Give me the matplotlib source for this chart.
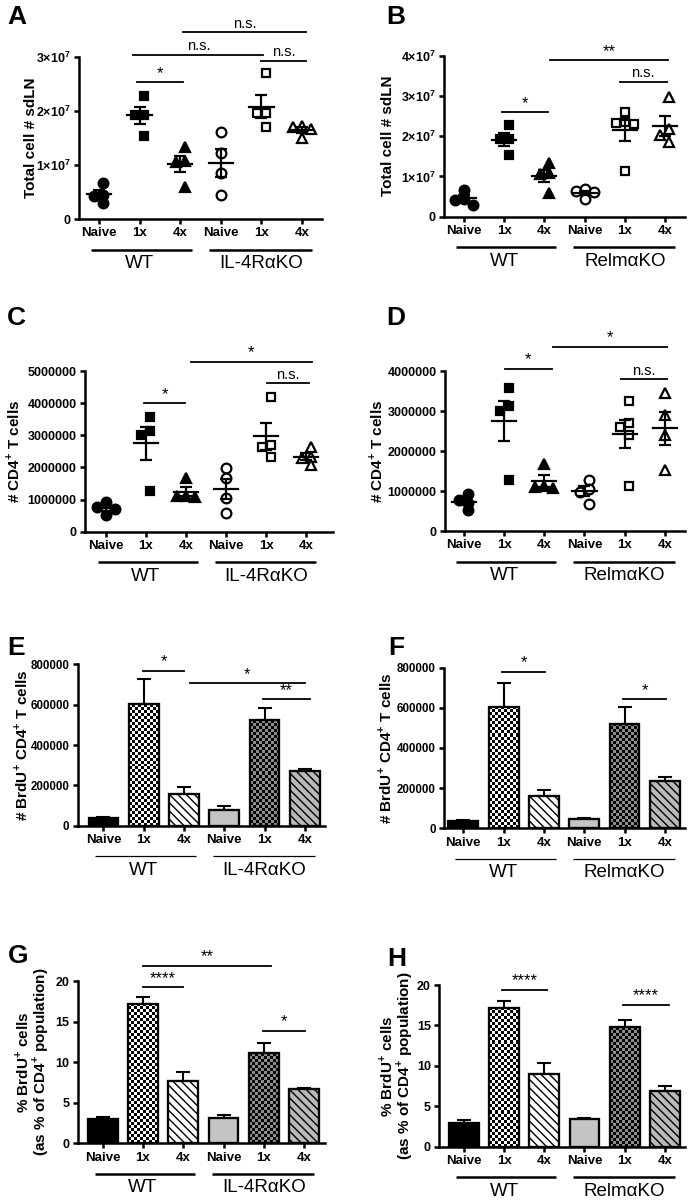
import numpy as np
import matplotlib
matplotlib.use('Agg')
import matplotlib.pyplot as plt
from matplotlib.colors import ListedColormap
from matplotlib.transforms import ScaledTranslation

plt.rcParams['font.family'] = ['Liberation Sans', 'DejaVu Sans']
plt.rcParams['mathtext.fontset'] = 'custom'
plt.rcParams['mathtext.rm'] = 'Liberation Sans'
plt.rcParams['mathtext.bf'] = 'Liberation Sans:bold'
plt.rcParams['hatch.linewidth'] = 1.0

conditions = ['Naive', '1x', '4x', 'Naive', '1x', '4x']
groups_il4 = ['WT', 'IL-4RαKO']
groups_relm = ['WT', 'RelmαKO']

# A/B: total cell # in sdLN (individual mice)
tot_wt = [[6.7e6, 4.4e6, 4.2e6, 3.0e6],
          [2.28e7, 1.93e7, 1.92e7, 1.54e7],
          [1.34e7, 1.08e7, 1.05e7, 0.60e7]]
tot_il4 = [[1.62e7, 1.23e7, 0.85e7, 0.45e7],
           [2.70e7, 1.96e7, 1.96e7, 1.71e7],
           [1.72e7, 1.70e7, 1.66e7, 1.50e7]]
tot_relm = [[0.68e7, 0.64e7, 0.62e7, 0.44e7],
            [2.61e7, 2.36e7, 2.32e7, 2.30e7, 1.14e7],
            [2.98e7, 2.19e7, 2.03e7, 1.86e7]]

# C/D: # CD4+ T cells
cd4_wt = [[0.92e6, 0.78e6, 0.70e6, 0.52e6],
          [3.58e6, 3.13e6, 3.01e6, 1.27e6],
          [1.68e6, 1.12e6, 1.10e6, 1.08e6]]
cd4_il4 = [[1.97e6, 1.66e6, 1.04e6, 0.59e6],
           [4.20e6, 2.70e6, 2.65e6, 2.33e6],
           [2.65e6, 2.33e6, 2.28e6, 2.08e6]]
cd4_relm = [[1.28e6, 1.05e6, 0.98e6, 0.67e6],
            [3.25e6, 2.69e6, 2.61e6, 2.40e6, 1.13e6],
            [3.44e6, 2.90e6, 2.40e6, 1.53e6]]

# E/F: # BrdU+ CD4+ T cells (mean, SEM)
brdu_wt = [36000, 603000, 159000]
brdu_wt_sem = [7000, 123000, 33000]
brdu_il4 = [78000, 524000, 271000]
brdu_il4_sem = [20000, 58000, 10000]
brdu_relm = [46500, 519000, 237000]
brdu_relm_sem = [3500, 87000, 20000]

# G/H: % BrdU+ of CD4+ (mean, SEM)
pct_wt_g = [2.96, 17.2, 7.72]
pct_wt_g_sem = [0.33, 0.82, 1.11]
pct_il4 = [3.08, 11.09, 6.73]
pct_il4_sem = [0.40, 1.31, 0.07]
pct_wt_h = [2.97, 17.2, 8.99]
pct_wt_h_sem = [0.33, 0.86, 1.40]
pct_relm = [3.38, 14.76, 6.89]
pct_relm_sem = [0.12, 0.91, 0.66]

# significance bars: (from, to, height, label)
sig_a = [(0.93, 2.08, 2.53e7, '*'), (0.85, 4.05, 3.04e7, 'n.s.'),
         (4.0, 5.1, 2.93e7, 'n.s.'), (2.08, 5.1, 3.46e7, 'n.s.')]
sig_b = [(0.94, 2.1, 2.59e7, '*'), (2.14, 5.08, 3.89e7, '**'), (3.88, 5.04, 3.35e7, 'n.s.')]
sig_c = [(0.95, 1.98, 3.99e6, '*'), (2.12, 5.14, 5.29e6, '*'), (4.02, 5.06, 4.62e6, 'n.s.')]
sig_d = [(1.02, 2.19, 4.05e6, '*'), (2.22, 5.06, 4.61e6, '*'), (3.91, 5.06, 3.79e6, 'n.s.')]
sig_e = [(0.98, 2.0, 767000, '*'), (2.15, 5.0, 706000, '*'), (3.97, 5.12, 626000, '**')]
sig_f = [(0.97, 2.03, 780000, '*'), (3.97, 5.04, 644000, '*')]
sig_g = [(1.0, 4.19, 21.9, '**'), (1.0, 2.0, 19.2, '****'), (3.98, 5.02, 13.9, '*')]
sig_h = [(0.95, 2.08, 19.38, '****'), (3.96, 5.1, 17.53, '****')]

W, H = 689, 1200
fig = plt.figure(figsize=(W / 100, H / 100), dpi=100)

# axes boxes in pixels: left, right, top, bottom, xlim, ylabel centre x, ytick size
boxes = {
    'A': (79, 322, 57, 219, (-0.49, 5.49), 31, 9),
    'B': (444, 685, 55.7, 216.7, (-0.5, 5.5), 388, 9),
    'C': (85, 333, 371, 531.7, (-0.52, 5.67), 13, 9),
    'D': (445, 685, 371, 531, (-0.47, 5.5), 376, 9),
    'E': (77.7, 325, 664.3, 825.7, (-0.64, 5.5), 21, 8.3),
    'F': (444, 685, 667.7, 828.3, (-0.48, 5.5), 385, 8.3),
    'G': (77.7, 325, 981, 1143.3, (-0.62, 5.52), 32, 9),
    'H': (439.3, 685, 985, 1146.7, (-0.61, 5.5), 396, 9),
}
letters = {'A': (7, 5), 'B': (386, 5), 'C': (7, 306), 'D': (386, 306),
           'E': (7, 636), 'F': (388, 636), 'G': (8, 944), 'H': (387, 947)}


def make_axes(key, ylim, yticks, ylabels, ylabel, groups, sigs, under_lw=1.8):
    l, r, t, b, xl, labx, yfs = boxes[key]
    ax = fig.add_axes([l / W, 1 - b / H, (r - l) / W, (b - t) / H])
    ax.set_xlim(xl)
    ax.set_ylim(ylim)
    for s in ['top', 'right']:
        ax.spines[s].set_visible(False)
    for s in ['left', 'bottom']:
        ax.spines[s].set_linewidth(1.8)
    ax.tick_params(direction='out', length=3.5, width=1.8, pad=2.5)
    ax.set_xticks(range(6), conditions, fontweight='bold', fontsize=9.5)
    ax.set_yticks(yticks, ylabels, fontweight='bold', fontsize=yfs)
    ax.set_ylabel(ylabel, fontweight='bold', fontsize=11, va='center',
                  linespacing=0.95)
    ax.yaxis.set_label_coords((labx - l) / (r - l), 0.5)

    # group underlines and names below the x tick labels
    off_line = ax.get_xaxis_transform() + ScaledTranslation(0, -22 / 72, fig.dpi_scale_trans)
    off_text = ax.get_xaxis_transform() + ScaledTranslation(0, -32 / 72, fig.dpi_scale_trans)
    for (x0, x1), xc, name in zip([(-0.2, 2.3), (2.72, 5.24)], [1, 4], groups):
        ax.plot([x0, x1], [0, 0], color='k', lw=under_lw, transform=off_line,
                clip_on=False, solid_capstyle='butt')
        ax.text(xc, 0, name, transform=off_text, ha='center', va='center', fontsize=13.5)

    for x0, x1, y, lab in sigs:
        ax.plot([x0, x1], [y, y], color='k', lw=1.3, clip_on=False)
        fs = 10.5 if lab == 'n.s.' else 12
        ax.annotate(lab, ((x0 + x1) / 2, y), xytext=(0, 1.0), textcoords='offset points',
                    ha='center', va='bottom', fontsize=fs, annotation_clip=False)

    lx, ly = letters[key]
    fig.text(lx / W, 1 - ly / H, key, fontsize=19, fontweight='bold', va='top', ha='left')
    return ax


def swarm(vals, ypx, xpx, mpx):
    vals = np.asarray(vals)
    offs = np.zeros(len(vals))
    placed = []
    for k in np.argsort(vals)[::-1]:
        for step in [0, -0.5, 0.5, -1, 1, -1.5, 1.5, -2, 2]:
            ox = step * mpx
            if all(abs(ox - px) >= 0.8 * mpx or abs(vals[k] - v) * ypx >= 0.8 * mpx
                   for px, v in placed):
                break
        placed.append((ox, vals[k]))
        offs[k] = ox / xpx
    # centre the cloud
    return offs - (offs.max() + offs.min()) / 2


def scatter_panel(ax, wt, ko, key):
    l, r, t, b, xl = boxes[key][:5]
    xpx = (r - l) / (xl[1] - xl[0])
    ypx = (b - t) / ax.get_ylim()[1]
    markers = ['o', 's', '^']
    sizes = [7, 6.3, 7]
    for gi, (data, filled) in enumerate([(wt, True), (ko, False)]):
        for ci, vals in enumerate(data):
            x = gi * 3 + ci
            offs = swarm(vals, ypx, xpx, 9)
            ax.plot(x + offs, vals, linestyle='none', marker=markers[ci],
                    markersize=sizes[ci], markeredgewidth=1.6, markeredgecolor='k',
                    markerfacecolor='k' if filled else 'white', clip_on=False, zorder=3)
            m = np.mean(vals)
            sem = np.std(vals, ddof=1) / np.sqrt(len(vals))
            ax.plot([x - 0.3, x + 0.3], [m, m], color='k', lw=1.6, zorder=4)
            ax.errorbar(x, m, yerr=sem, fmt='none', ecolor='k', elinewidth=1.6,
                        capsize=4.5, capthick=1.6, zorder=4)


def checker(ax, patch, colors, key, cell=3.0):
    l, r, t, b, xl = boxes[key][:5]
    xpx = (r - l) / (xl[1] - xl[0])
    ypx = (b - t) / ax.get_ylim()[1]
    x0, w, h = patch.get_x(), patch.get_width(), patch.get_height()
    nx = max(1, int(round(w * xpx / cell)))
    ny = max(1, int(round(h * ypx / cell)))
    arr = np.add.outer(np.arange(ny), np.arange(nx)) % 2
    im = ax.imshow(arr, extent=[x0, x0 + w, 0, h], cmap=ListedColormap(colors),
                   interpolation='nearest', aspect='auto', origin='lower', zorder=2.1)
    im.set_clip_path(patch)


def bar_panel(ax, wt, wt_sem, ko, ko_sem, key):
    xlim, ylim = ax.get_xlim(), ax.get_ylim()
    means = list(wt) + list(ko)
    sems = list(wt_sem) + list(ko_sem)
    x = np.arange(6)
    ax.errorbar(x, means, yerr=[np.zeros(6), sems], fmt='none', ecolor='k',
                elinewidth=1.5, capsize=5, capthick=1.5, zorder=1)
    faces = ['black', 'white', 'white', '#c4c4c4', '#8c8c8c', '#b9b9b9']
    hatches = [None, None, '\\\\\\\\', None, None, '\\\\\\\\']
    bars = ax.bar(x, means, width=0.74, color=faces, edgecolor='k', linewidth=1.5, zorder=2)
    for bar, h in zip(bars, hatches):
        if h:
            bar.set_hatch(h)
    checker(ax, bars[1], ['white', 'black'], key)
    checker(ax, bars[4], ['#8c8c8c', 'black'], key)
    ax.bar(x, means, width=0.74, fill=False, edgecolor='k', linewidth=1.6, zorder=3)
    ax.set_xlim(xlim)
    ax.set_ylim(ylim)


def sci7(v):
    return '0' if v == 0 else '%d×10$^{\\mathbf{7}}$' % round(v / 1e7)


plain = lambda ticks: ['%d' % t for t in ticks]

t_ab = [0, 1e7, 2e7, 3e7]
ax = make_axes('A', (0, 3e7), t_ab, [sci7(v) for v in t_ab], 'Total cell # sdLN', groups_il4, sig_a)
scatter_panel(ax, tot_wt, tot_il4, 'A')

t_b = [0, 1e7, 2e7, 3e7, 4e7]
ax = make_axes('B', (0, 4e7), t_b, [sci7(v) for v in t_b], 'Total cell # sdLN', groups_relm, sig_b)
scatter_panel(ax, tot_wt, tot_relm, 'B')

cd4_label = '# CD4$^{\\mathbf{+}}$ T cells'
t_c = [0, 1e6, 2e6, 3e6, 4e6, 5e6]
ax = make_axes('C', (0, 5e6), t_c, plain(t_c), cd4_label, groups_il4, sig_c)
scatter_panel(ax, cd4_wt, cd4_il4, 'C')

t_d = [0, 1e6, 2e6, 3e6, 4e6]
ax = make_axes('D', (0, 4e6), t_d, plain(t_d), cd4_label, groups_relm, sig_d)
scatter_panel(ax, cd4_wt, cd4_relm, 'D')

brdu_label = '# BrdU$^{\\mathbf{+}}$ CD4$^{\\mathbf{+}}$ T cells'
t_ef = [0, 200000, 400000, 600000, 800000]
ax = make_axes('E', (0, 800000), t_ef, plain(t_ef), brdu_label, groups_il4, sig_e, under_lw=0.9)
bar_panel(ax, brdu_wt, brdu_wt_sem, brdu_il4, brdu_il4_sem, 'E')

ax = make_axes('F', (0, 800000), t_ef, plain(t_ef), brdu_label, groups_relm, sig_f, under_lw=0.9)
bar_panel(ax, brdu_wt, brdu_wt_sem, brdu_relm, brdu_relm_sem, 'F')

pct_label = '% BrdU$^{\\mathbf{+}}$ cells\n(as % of CD4$^{\\mathbf{+}}$ population)'
t_gh = [0, 5, 10, 15, 20]
ax = make_axes('G', (0, 20), t_gh, plain(t_gh), pct_label, groups_il4, sig_g)
bar_panel(ax, pct_wt_g, pct_wt_g_sem, pct_il4, pct_il4_sem, 'G')

ax = make_axes('H', (0, 20), t_gh, plain(t_gh), pct_label, groups_relm, sig_h)
bar_panel(ax, pct_wt_h, pct_wt_h_sem, pct_relm, pct_relm_sem, 'H')

fig.savefig('out.png', dpi=100)
